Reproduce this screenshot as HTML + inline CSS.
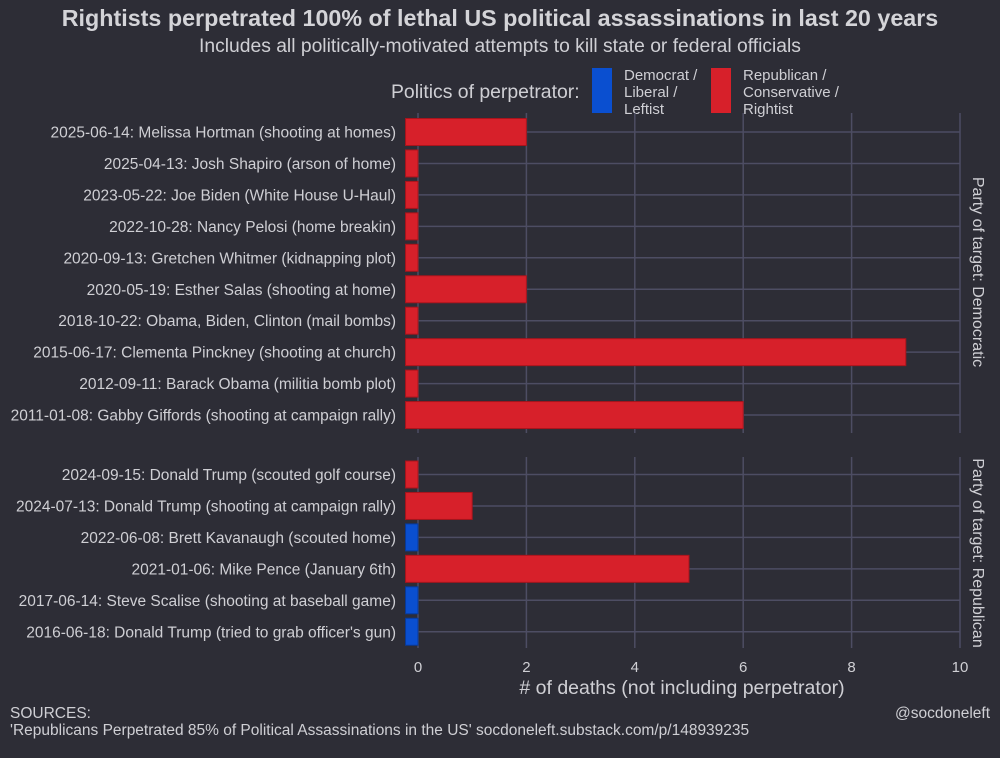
<!DOCTYPE html>
<html><head><meta charset="utf-8"><style>
body{margin:0;background:#2d2d36;}
svg text{font-family:"Liberation Sans",sans-serif;}
</style></head><body>
<svg width="1000" height="753" viewBox="0 0 1000 753">
<rect width="1000" height="753" fill="#2d2d36"/>
<text x="500" y="26" text-anchor="middle" font-size="23.3" font-weight="bold" fill="#d4d4d8">Rightists perpetrated 100% of lethal US political assassinations in last 20 years</text>
<text x="500" y="52" text-anchor="middle" font-size="19.3" fill="#cfcfd4">Includes all politically-motivated attempts to kill state or federal officials</text>
<g>
<text x="391" y="98" font-size="19.4" fill="#cfcfd4">Politics of perpetrator:</text>
<rect x="592" y="68" width="20" height="45" fill="#0a4fd0"/>
<text font-size="15" fill="#cfcfd4"><tspan x="624" y="80">Democrat /</tspan><tspan x="624" y="97">Liberal /</tspan><tspan x="624" y="114">Leftist</tspan></text>
<rect x="711" y="68" width="20" height="45" fill="#d7202a"/>
<text font-size="15" fill="#cfcfd4"><tspan x="743" y="80">Republican /</tspan><tspan x="743" y="97">Conservative /</tspan><tspan x="743" y="114">Rightist</tspan></text>
</g>
<g id="plot"></g>
<text x="973" y="272" transform="rotate(90 973 272)" text-anchor="middle" font-size="16" fill="#cfcfd4">Party of target: Democratic</text>
<text x="973" y="553" transform="rotate(90 973 553)" text-anchor="middle" font-size="16" fill="#cfcfd4">Party of target: Republican</text>
<text x="682" y="694" text-anchor="middle" font-size="19.5" fill="#cfcfd4"># of deaths (not including perpetrator)</text>
<text x="10" y="718" font-size="15.5" fill="#cfcfd4">SOURCES:</text>
<text x="10" y="735" font-size="15.5" fill="#cfcfd4">'Republicans Perpetrated 85% of Political Assassinations in the US' socdoneleft.substack.com/p/148939235</text>
<text x="990" y="718" text-anchor="end" font-size="15.5" fill="#cfcfd4">@socdoneleft</text>
</svg>
<script>
const demLabels=["2025-06-14: Melissa Hortman (shooting at homes)","2025-04-13: Josh Shapiro (arson of home)","2023-05-22: Joe Biden (White House U-Haul)","2022-10-28: Nancy Pelosi (home breakin)","2020-09-13: Gretchen Whitmer (kidnapping plot)","2020-05-19: Esther Salas (shooting at home)","2018-10-22: Obama, Biden, Clinton (mail bombs)","2015-06-17: Clementa Pinckney (shooting at church)","2012-09-11: Barack Obama (militia bomb plot)","2011-01-08: Gabby Giffords (shooting at campaign rally)"];
const demValues=[2,0,0,0,0,2,0,9,0,6];
const demPerp=["R","R","R","R","R","R","R","R","R","R"];
const repLabels=["2024-09-15: Donald Trump (scouted golf course)","2024-07-13: Donald Trump (shooting at campaign rally)","2022-06-08: Brett Kavanaugh (scouted home)","2021-01-06: Mike Pence (January 6th)","2017-06-14: Steve Scalise (shooting at baseball game)","2016-06-18: Donald Trump (tried to grab officer's gun)"];
const repValues=[0,1,0,5,0,0];
const repPerp=["R","R","D","R","D","D"];
const xTicks=[0,2,4,6,8,10];
const NS="http://www.w3.org/2000/svg";
const plot=document.getElementById('plot');
const x=v=>418+v*54.2;
const X0=x(-0.23);
function mk(tag,attrs,parent){const e=document.createElementNS(NS,tag);for(const k in attrs)e.setAttribute(k,attrs[k]);(parent||plot).appendChild(e);return e;}
function panel(labels,values,perp,top,bottom,firstY,name){
  const g=mk('g',{});
  
  
  xTicks.forEach(t=>{const l=mk('line',{x1:x(t),x2:x(t),y1:top,y2:bottom,stroke:'#4d4d63','stroke-width':1.5},g);
    
    });
  labels.forEach((lab,i)=>{const y=firstY+i*31.45;
    const gl=mk('line',{x1:X0,x2:x(10),y1:y,y2:y,stroke:'#4d4d63','stroke-width':1.5},g);
    
    
    const r=mk('rect',{x:X0,y:y-13.5,width:x(values[i])-X0,height:27,fill:perp[i]==='R'?'#d7202a':'#0a4fd0',stroke:perp[i]==='R'?'#a8141c':'#083a9a','stroke-width':1},g);
    
    
    const t=mk('text',{x:396,y:y+5.5,'text-anchor':'end','font-size':15.5,fill:'#cfcfd4'},g);
    t.textContent=lab;
    
    });
}
panel(demLabels,demValues,demPerp,113,433,132,'panel-democratic');
panel(repLabels,repValues,repPerp,457,648,474.5,'panel-republican');
xTicks.forEach(t=>{const e=mk('text',{x:x(t),y:672,'text-anchor':'middle','font-size':15,fill:'#cfcfd4'});
  e.textContent=t;
  
  });
</script>
</body></html>
